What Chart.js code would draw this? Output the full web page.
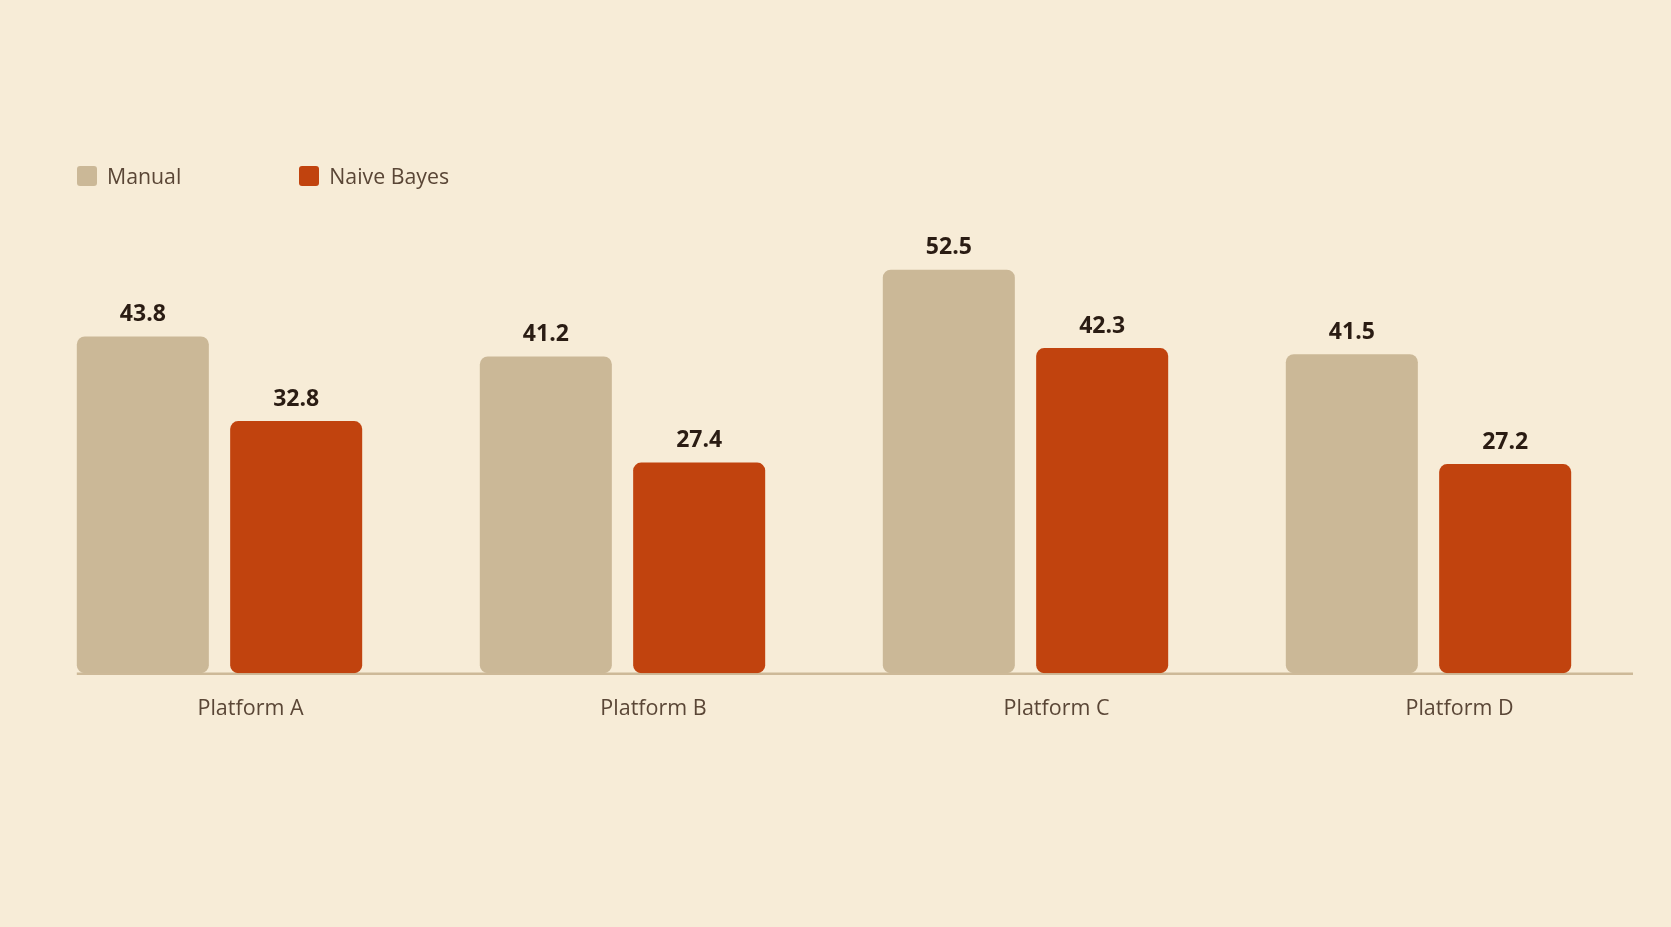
<!DOCTYPE html>
<html>
<head>
<meta charset="utf-8">
<script src="https://cdn.jsdelivr.net/npm/chart.js@4/dist/chart.umd.min.js"></script>
<style>
  html, body { margin:0; padding:0; background:#f7ecd7; }
  body { width:1671px; height:927px; position:relative; overflow:hidden; font-family:"Open Sans", sans-serif; }
  #legend { position:absolute; left:77px; top:163px; display:flex; gap:118px; }
  .lg-item { display:flex; align-items:center; gap:10px; font-size:21.3px; color:#5a4636; line-height:26px; }
  .lg-box { width:20px; height:20px; border-radius:3px; }
  #wrap { position:absolute; left:0; top:0; width:1671px; height:927px; }
</style>
</head>
<body>
<div id="wrap"><canvas id="chart"></canvas></div>
<div id="legend"></div>
<script>
// Data
const categories  = ["Platform A", "Platform B", "Platform C", "Platform D"];
const manual      = [43.8, 41.2, 52.5, 41.5];
const naiveBayes  = [32.8, 27.4, 42.3, 27.2];
const seriesNames = ["Manual", "Naive Bayes"];

const COLORS = { manual: "#cbb897", naive: "#c1430e", axis: "#cdb998", label: "#5a4636", value: "#2a1c13" };

// Legend as plain HTML, built from the datasets
const datasets = [
  { label: seriesNames[0], data: manual,     backgroundColor: COLORS.manual },
  { label: seriesNames[1], data: naiveBayes, backgroundColor: COLORS.naive }
];
document.getElementById("legend").innerHTML = datasets.map(d =>
  `<div class="lg-item"><span class="lg-box" style="background:${d.backgroundColor}"></span>${d.label}</div>`
).join("");

// Baseline drawn from the first bar's left edge to the right of the plot
const baseLine = {
  id: "baseLine",
  beforeDatasetsDraw(chart) {
    const { ctx, chartArea, scales } = chart;
    const first = chart.getDatasetMeta(0).data[0];
    const y = scales.y.getPixelForValue(0);
    ctx.save();
    ctx.strokeStyle = COLORS.axis;
    ctx.lineWidth = 2.5;
    ctx.beginPath();
    ctx.moveTo(first.x - first.width / 2, y + 0.5);
    ctx.lineTo(chartArea.right + 3, y + 0.5);
    ctx.stroke();
    ctx.restore();
  }
};

// Value labels above each bar
const valueLabels = {
  id: "valueLabels",
  afterDatasetsDraw(chart) {
    const { ctx } = chart;
    ctx.save();
    ctx.font = "bold 23px 'Open Sans', sans-serif";
    ctx.fillStyle = COLORS.value;
    ctx.textAlign = "center";
    ctx.textBaseline = "middle";
    chart.data.datasets.forEach((ds, i) => {
      chart.getDatasetMeta(i).data.forEach((bar, j) => {
        ctx.fillText(ds.data[j].toFixed(1), bar.x, bar.y - 22);
      });
    });
    ctx.restore();
  }
};

new Chart(document.getElementById("chart").getContext("2d"), {
  type: "bar",
  data: {
    labels: categories,
    datasets: datasets.map(d => ({
      ...d,
      borderRadius: 8,
      borderSkipped: false,
      categoryPercentage: 0.761,
      barPercentage: 0.861
    }))
  },
  options: {
    responsive: true,
    maintainAspectRatio: false,
    animation: false,
    layout: { padding: { left: 18, right: 41, top: 212, bottom: 190 } },
    scales: {
      x: {
        grid: { display: false },
        border: { display: false },
        ticks: {
          color: COLORS.label,
          font: { family: "'Open Sans', sans-serif", size: 21.5 },
          padding: 15,
          labelOffset: 31
        }
      },
      y: {
        display: false,
        min: 0,
        max: 60
      }
    },
    plugins: {
      legend: { display: false },
      tooltip: { enabled: false }
    }
  },
  plugins: [baseLine, valueLabels]
});
</script>
</body>
</html>
